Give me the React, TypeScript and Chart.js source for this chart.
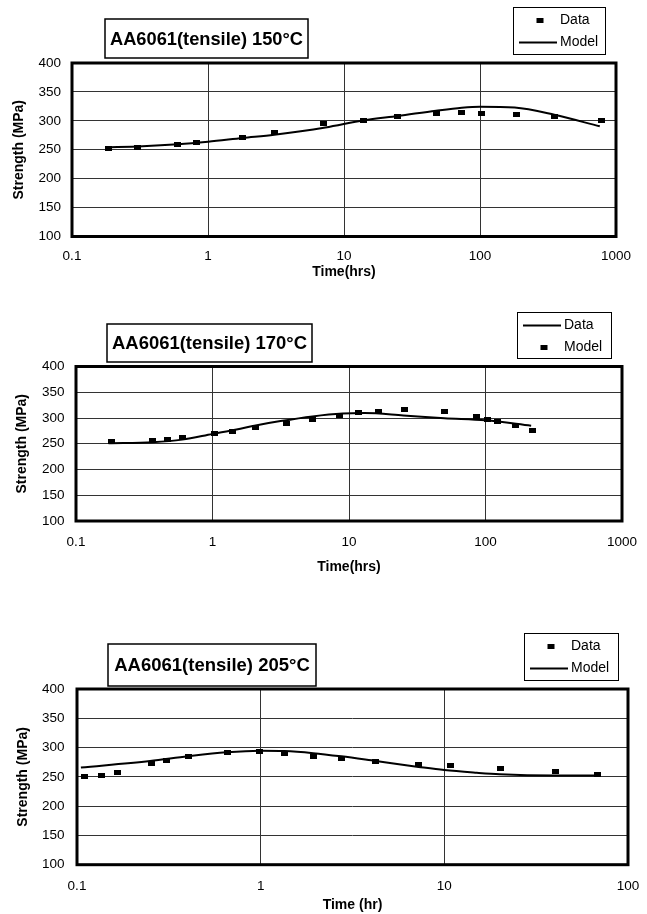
import React, { useEffect, useRef } from "react";
import { Chart, registerables } from "chart.js";

Chart.register(...registerables);

const FONT = "'Liberation Sans', Arial, Helvetica, sans-serif";
const W = 647;

// ---------- shared y axis ----------
const yTicks = [100, 150, 200, 250, 300, 350, 400];
const yTickLabels = ["100", "150", "200", "250", "300", "350", "400"];

// ---------- panel 1 : 150°C ----------
const p1Title = "AA6061(tensile) 150°C";
const p1XTitle = "Time(hrs)";
const p1XTicks = [0.1, 1, 10, 100, 1000];
const p1XTickLabels = ["0.1", "1", "10", "100", "1000"];
const p1DataTime = [0.185, 0.305, 0.6, 0.82, 1.8, 3.07, 7.1, 14, 24.8, 47.5, 73.5, 103, 186, 352, 780];
const p1DataStrength = [252, 253.5, 258.7, 262.5, 271.4, 279, 295, 301, 307.5, 312.3, 314, 313.5, 311.3, 308, 300.2];
const p1ModelTime = [0.175, 0.33, 0.6, 1, 1.8, 3.07, 7.3, 14, 25, 47.5, 73.5, 100, 180, 352, 760];
const p1ModelStrength = [254, 256, 259.5, 264, 270.5, 276, 288.5, 301, 308.5, 317.5, 322.7, 324.5, 323, 310.5, 290.5];

// ---------- panel 2 : 170°C ----------
const p2Title = "AA6061(tensile) 170°C";
const p2XTitle = "Time(hrs)";
const p2XTicks = [0.1, 1, 10, 100, 1000];
const p2XTickLabels = ["0.1", "1", "10", "100", "1000"];
const p2LineTime = [0.173, 0.365, 0.6, 1.0, 1.5, 2.07, 3.15, 5.4, 9, 13, 25, 50, 100, 216];
const p2LineStrength = [251, 253, 258, 269, 277.5, 285.5, 294, 303, 308.5, 309.5, 305, 299.5, 295.5, 285];
const p2PointTime = [0.182, 0.365, 0.467, 0.6, 1.03, 1.39, 2.07, 3.49, 5.43, 8.53, 11.8, 16.5, 25.6, 50.5, 86, 104, 122, 167, 221];
const p2PointStrength = [254, 257, 259, 262.5, 269, 274.5, 281, 288.5, 297, 305, 310, 313, 317, 313, 303, 297, 294, 285, 276.5];

// ---------- panel 3 : 205°C ----------
const p3Title = "AA6061(tensile) 205°C";
const p3XTitle = "Time (hr)";
const p3XTicks = [0.1, 1, 10, 100];
const p3XTickLabels = ["0.1", "1", "10", "100"];
const p3DataTime = [0.11, 0.136, 0.167, 0.254, 0.309, 0.405, 0.658, 0.98, 1.35, 1.93, 2.75, 4.24, 7.24, 10.8, 20.1, 40.2, 68.5];
const p3DataStrength = [251, 253, 257.5, 272, 278, 285.2, 291.8, 294, 290.5, 285.5, 281.5, 276, 271, 269, 264, 259.5, 254];
const p3ModelTime = [0.105, 0.25, 0.4, 0.65, 1.0, 1.35, 1.93, 2.75, 4.24, 7.24, 10, 15, 20, 40, 68.5];
const p3ModelStrength = [266, 277, 285, 291.8, 294.5, 294, 290.5, 285, 277, 267, 261.5, 257, 254.5, 252.5, 252.5];

type Series = { label: string; kind: "line" | "points"; x: number[]; y: number[] };
type PanelCfg = {
  top: number;
  height: number;
  area: { left: number; right: number; top: number; bottom: number };
  xMin: number;
  xMax: number;
  xTicks: number[];
  xTickLabels: string[];
  xTitle: string;
  xTickPad: number;
  xTitlePad: number;
  yTickPad: number;
  yTitlePad: number;
  title: string;
  titleBox: { x1: number; y1: number; x2: number; y2: number };
  legendBox: { x1: number; y1: number; x2: number; y2: number };
  series: Series[];
};

const panels: PanelCfg[] = [
  {
    top: 0,
    height: 295,
    area: { left: 72, right: 616, top: 63, bottom: 236.5 },
    xMin: 0.1,
    xMax: 1000,
    xTicks: p1XTicks,
    xTickLabels: p1XTickLabels,
    xTitle: p1XTitle,
    xTickPad: 12,
    xTitlePad: 14,
    yTickPad: 11,
    yTitlePad: 11,
    title: p1Title,
    titleBox: { x1: 105, y1: 19, x2: 308, y2: 58 },
    legendBox: { x1: 513, y1: 7, x2: 605, y2: 54 },
    series: [
      { label: "Data", kind: "points", x: p1DataTime, y: p1DataStrength },
      { label: "Model", kind: "line", x: p1ModelTime, y: p1ModelStrength },
    ],
  },
  {
    top: 295,
    height: 320,
    area: { left: 76, right: 622, top: 71.5, bottom: 226 },
    xMin: 0.1,
    xMax: 1000,
    xTicks: p2XTicks,
    xTickLabels: p2XTickLabels,
    xTitle: p2XTitle,
    xTickPad: 13,
    xTitlePad: 39,
    yTickPad: 11.5,
    yTitlePad: 14,
    title: p2Title,
    titleBox: { x1: 107, y1: 29, x2: 312, y2: 67 },
    legendBox: { x1: 517, y1: 17, x2: 611, y2: 63 },
    series: [
      { label: "Data", kind: "line", x: p2LineTime, y: p2LineStrength },
      { label: "Model", kind: "points", x: p2PointTime, y: p2PointStrength },
    ],
  },
  {
    top: 615,
    height: 299,
    area: { left: 77, right: 628, top: 74, bottom: 249.7 },
    xMin: 0.1,
    xMax: 100,
    xTicks: p3XTicks,
    xTickLabels: p3XTickLabels,
    xTitle: p3XTitle,
    xTickPad: 13,
    xTitlePad: 0.5,
    yTickPad: 12.5,
    yTitlePad: 14.5,
    title: p3Title,
    titleBox: { x1: 108, y1: 29, x2: 316, y2: 71 },
    legendBox: { x1: 524, y1: 18, x2: 618, y2: 65 },
    series: [
      { label: "Data", kind: "points", x: p3DataTime, y: p3DataStrength },
      { label: "Model", kind: "line", x: p3ModelTime, y: p3ModelStrength },
    ],
  },
];

const MW = 7;
const MH = 5;

const decorPlugin = {
  id: "decor",
  afterDraw(chart: any, _args: any, opts: any) {
    const { ctx, chartArea: a } = chart;
    ctx.save();
    // thick plot frame
    ctx.strokeStyle = "#000";
    ctx.lineWidth = 3;
    ctx.strokeRect(a.left, a.top, a.right - a.left, a.bottom - a.top);

    // title box
    const t = opts.titleBox;
    ctx.fillStyle = "#fff";
    ctx.fillRect(t.x1, t.y1, t.x2 - t.x1, t.y2 - t.y1);
    ctx.lineWidth = 1.5;
    ctx.strokeRect(t.x1, t.y1, t.x2 - t.x1, t.y2 - t.y1);
    ctx.fillStyle = "#000";
    ctx.font = `bold 18.5px ${FONT}`;
    ctx.textAlign = "center";
    ctx.textBaseline = "middle";
    ctx.fillText(opts.title, (t.x1 + t.x2) / 2, (t.y1 + t.y2) / 2 + 1, t.x2 - t.x1 - 10);

    // legend box
    const L = opts.legendBox;
    ctx.fillStyle = "#fff";
    ctx.fillRect(L.x1, L.y1, L.x2 - L.x1, L.y2 - L.y1);
    ctx.lineWidth = 1;
    ctx.strokeStyle = "#000";
    ctx.strokeRect(L.x1 + 0.5, L.y1 + 0.5, L.x2 - L.x1, L.y2 - L.y1);
    const rows = [13.5, 35.5];
    ctx.font = `14px ${FONT}`;
    ctx.textAlign = "left";
    chart.data.datasets.forEach((ds: any, i: number) => {
      const y = L.y1 + rows[i];
      ctx.fillStyle = "#000";
      if (ds.showLine) {
        ctx.lineWidth = 2;
        ctx.beginPath();
        ctx.moveTo(L.x1 + 6, y);
        ctx.lineTo(L.x1 + 44, y);
        ctx.stroke();
      } else {
        ctx.fillRect(L.x1 + 27 - MW / 2, y - MH / 2, MW, MH);
      }
      ctx.fillText(ds.label, L.x1 + 47, y);
    });
    ctx.restore();
  },
};

function Panel({ cfg }: { cfg: PanelCfg }) {
  const ref = useRef<HTMLCanvasElement>(null);
  useEffect(() => {
    const canvas = ref.current!;
    const marker = document.createElement("canvas");
    marker.width = MW;
    marker.height = MH;
    const mctx = marker.getContext("2d")!;
    mctx.fillStyle = "#000";
    mctx.fillRect(0, 0, MW, MH);

    const datasets = cfg.series.map((s) =>
      s.kind === "line"
        ? {
            label: s.label,
            data: s.x.map((x, i) => ({ x, y: s.y[i] })),
            showLine: true,
            borderColor: "#000",
            backgroundColor: "#000",
            borderWidth: 2,
            pointRadius: 0,
            cubicInterpolationMode: "monotone",
            fill: false,
            order: 2,
          }
        : {
            label: s.label,
            data: s.x.map((x, i) => ({ x, y: s.y[i] })),
            showLine: false,
            pointStyle: marker,
            pointRadius: 3,
            borderColor: "#000",
            backgroundColor: "#000",
            order: 1,
          }
    );

    const chart = new Chart(canvas, {
      type: "scatter",
      data: { datasets } as any,
      options: {
        responsive: false,
        animation: false,
        events: [],
        layout: {
          padding: { left: 0, top: cfg.area.top, right: W - cfg.area.right, bottom: 0 },
        },
        plugins: {
          legend: { display: false },
          tooltip: { enabled: false },
          title: { display: false },
          decor: { title: cfg.title, titleBox: cfg.titleBox, legendBox: cfg.legendBox },
        } as any,
        scales: {
          x: {
            type: "logarithmic",
            min: cfg.xMin,
            max: cfg.xMax,
            afterBuildTicks: (s: any) => {
              s.ticks = cfg.xTicks.map((v) => ({ value: v, major: true }));
            },
            afterFit: (s: any) => {
              s.height = cfg.height - cfg.area.bottom;
              s.paddingLeft = 0;
              s.paddingRight = 0;
            },
            ticks: {
              autoSkip: false,
              maxRotation: 0,
              padding: cfg.xTickPad,
              color: "#000",
              font: { family: FONT, size: 13.5 },
              callback: (_v: any, i: number) => cfg.xTickLabels[i],
            },
            grid: { color: "#333", lineWidth: 1, drawTicks: false },
            border: { display: false },
            title: {
              display: true,
              text: cfg.xTitle,
              color: "#000",
              font: { family: FONT, size: 14, weight: "bold" },
              padding: { top: 0, bottom: cfg.xTitlePad },
            },
          },
          y: {
            type: "linear",
            min: 100,
            max: 400,
            afterBuildTicks: (s: any) => {
              s.ticks = yTicks.map((v) => ({ value: v }));
            },
            afterFit: (s: any) => {
              s.width = cfg.area.left;
              s.paddingTop = 0;
              s.paddingBottom = 0;
            },
            ticks: {
              padding: cfg.yTickPad,
              color: "#000",
              font: { family: FONT, size: 13.5 },
              callback: (_v: any, i: number) => yTickLabels[i],
            },
            grid: { color: "#333", lineWidth: 1, drawTicks: false },
            border: { display: false },
            title: {
              display: true,
              text: "Strength (MPa)",
              color: "#000",
              font: { family: FONT, size: 14, weight: "bold" },
              padding: { top: cfg.yTitlePad, bottom: 0 },
            },
          },
        } as any,
      },
      plugins: [decorPlugin as any],
    });
    return () => chart.destroy();
  }, [cfg]);

  return (
    <canvas
      ref={ref}
      width={W}
      height={cfg.height}
      style={{ position: "absolute", left: 0, top: cfg.top, width: W, height: cfg.height, display: "block" }}
    />
  );
}

export default function App() {
  return (
    <div style={{ position: "absolute", left: 0, top: 0, width: W, height: 914, background: "#fff" }}>
      {panels.map((p, i) => (
        <Panel key={i} cfg={p} />
      ))}
    </div>
  );
}
